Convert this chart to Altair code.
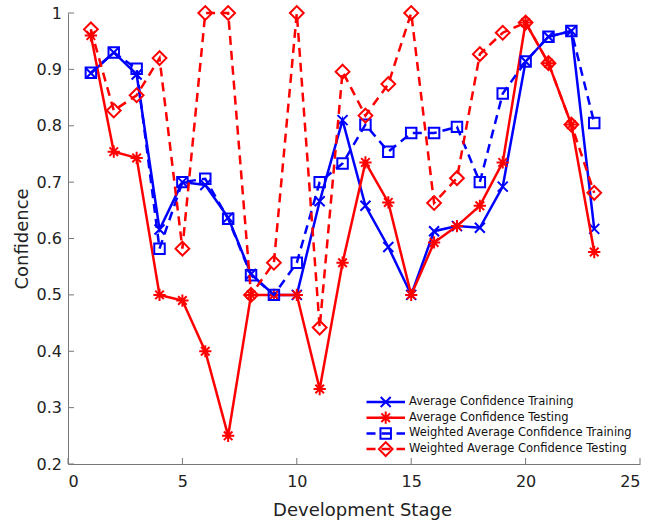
import altair as alt
import pandas as pd

# ---- data -------------------------------------------------------------
stages = list(range(1, 24))

avg_train = [0.893, 0.930, 0.891, 0.616, 0.700, 0.695, 0.637, 0.537, 0.500, 0.500,
             0.666, 0.810, 0.658, 0.585, 0.500, 0.613, 0.622, 0.619, 0.692, 0.914,
             0.958, 0.968, 0.617]
avg_test = [0.960, 0.754, 0.743, 0.500, 0.490, 0.400, 0.250, 0.500, 0.500, 0.500,
            0.333, 0.557, 0.735, 0.664, 0.500, 0.593, 0.622, 0.658, 0.735, 0.983,
            0.911, 0.802, 0.576]
wavg_train = [0.894, 0.930, 0.901, 0.582, 0.700, 0.706, 0.635, 0.535, 0.500, 0.557,
              0.700, 0.733, 0.802, 0.754, 0.787, 0.787, 0.798, 0.700, 0.857, 0.914,
              0.958, 0.968, 0.805]
wavg_test = [0.971, 0.827, 0.854, 0.920, 0.582, 1.000, 1.000, 0.500, 0.557, 1.000,
             0.442, 0.896, 0.818, 0.874, 1.000, 0.663, 0.707, 0.927, 0.965, 0.983,
             0.911, 0.802, 0.681]

names = [
    "Average Confidence Training",
    "Average Confidence Testing",
    "Weighted Average Confidence Training",
    "Weighted Average Confidence Testing",
]
series = [avg_train, avg_test, wavg_train, wavg_test]

x_ticks = [0, 5, 10, 15, 20, 25]
y_ticks = [0.2, 0.3, 0.4, 0.5, 0.6, 0.7, 0.8, 0.9, 1.0]

# ---- styles -----------------------------------------------------------
X_PATH = "M-1,-1L1,1M-1,1L1,-1"
STAR_PATH = "M0,-1L0,1M-1,0L1,0M-0.7,-0.7L0.7,0.7M-0.7,0.7L0.7,-0.7"

colors = ["#0000ff", "#ff0000", "#0000ff", "#ff0000"]
dashed = [False, False, True, True]
shapes = [X_PATH, STAR_PATH, "square", "diamond"]
sizes = [100, 150, 110, 190]
DASH = [9, 6]

W, H = 572, 451
FONT = "DejaVu Sans"
TEXT = "#222222"
AXIS = "#777777"

x_scale = alt.Scale(domain=[0, 25], nice=False, zero=False)
y_scale = alt.Scale(domain=[0.2, 1.0], nice=False, zero=False)

x_enc = alt.X(
    "stage:Q", scale=x_scale,
    axis=alt.Axis(values=x_ticks, tickSize=0, labelPadding=9, grid=False,
                  labelFont=FONT, labelFontSize=16, labelColor=TEXT,
                  domainColor=AXIS, domainWidth=1,
                  title="Development Stage", titleFont=FONT, titleFontSize=18,
                  titleFontWeight="normal", titleColor=TEXT,
                  titleBaseline="alphabetic", titleX=294, titleY=51),
)
y_enc = alt.Y(
    "value:Q", scale=y_scale,
    axis=alt.Axis(values=y_ticks, format=".1~f", tickSize=0, labelPadding=6.5,
                  grid=False, labelFont=FONT, labelFontSize=16, labelColor=TEXT,
                  domainColor=AXIS, domainWidth=1,
                  title="Confidence", titleFont=FONT, titleFontSize=18,
                  titleFontWeight="normal", titleColor=TEXT, titleAngle=270,
                  titleBaseline="alphabetic", titleAlign="center",
                  titleX=-41, titleY=H / 2),
)

layers = []

# inward tick marks on both axes
xt = alt.Chart(pd.DataFrame({"stage": x_ticks})).mark_rule(
    color=AXIS, strokeWidth=1).encode(x=x_enc, y=alt.value(H), y2=alt.value(H - 6))
yt = alt.Chart(pd.DataFrame({"value": y_ticks})).mark_rule(
    color=AXIS, strokeWidth=1).encode(y=y_enc, x=alt.value(0), x2=alt.value(6))
layers += [xt, yt]

# one line + marker layer per series, in plotting order
for name, vals, c, d, shp, sz in zip(names, series, colors, dashed, shapes, sizes):
    df = pd.DataFrame({"stage": stages, "value": vals, "series": name})
    base = alt.Chart(df).encode(x=x_enc, y=y_enc)
    line_kw = dict(color=c, strokeWidth=2.5)
    if d:
        line_kw["strokeDash"] = DASH
    layers.append(base.mark_line(**line_kw))
    layers.append(base.mark_point(shape=shp, size=sz, filled=False, color=c,
                                  strokeWidth=2, opacity=1))

# legend in the lower right corner of the plot area
LEG_X0, LEG_X1, LEG_MARK, LEG_TEXT = 298.5, 337, 317.7, 341
LEG_Y0, LEG_STEP = 389, 15.7
for i, (name, c, d, shp, sz) in enumerate(zip(names, colors, dashed, shapes, sizes)):
    ly = LEG_Y0 + i * LEG_STEP
    ldf = pd.DataFrame({"label": [name]})
    rule_kw = dict(color=c, strokeWidth=2.5, strokeCap="butt")
    if d:
        rule_kw["strokeDash"] = DASH
    layers.append(alt.Chart(ldf).mark_rule(**rule_kw).encode(
        x=alt.value(LEG_X0), x2=alt.value(LEG_X1), y=alt.value(ly)))
    layers.append(alt.Chart(ldf).mark_point(
        shape=shp, size=sz, filled=False, color=c, strokeWidth=2, opacity=1
    ).encode(x=alt.value(LEG_MARK), y=alt.value(ly)))
    layers.append(alt.Chart(ldf).mark_text(
        align="left", baseline="middle", font=FONT, fontSize=11.5, color="#111111"
    ).encode(x=alt.value(LEG_TEXT), y=alt.value(ly), text="label:N"))

chart = (
    alt.layer(*layers)
    .properties(
        width=W, height=H,
        padding={"left": 68, "top": 13, "right": 12, "bottom": 63},
        autosize=alt.AutoSizeParams(type="none"),
        background="white",
    )
    .configure_view(stroke=None)
)

chart.save("out.html", embed_options={"renderer": "svg", "actions": False})
